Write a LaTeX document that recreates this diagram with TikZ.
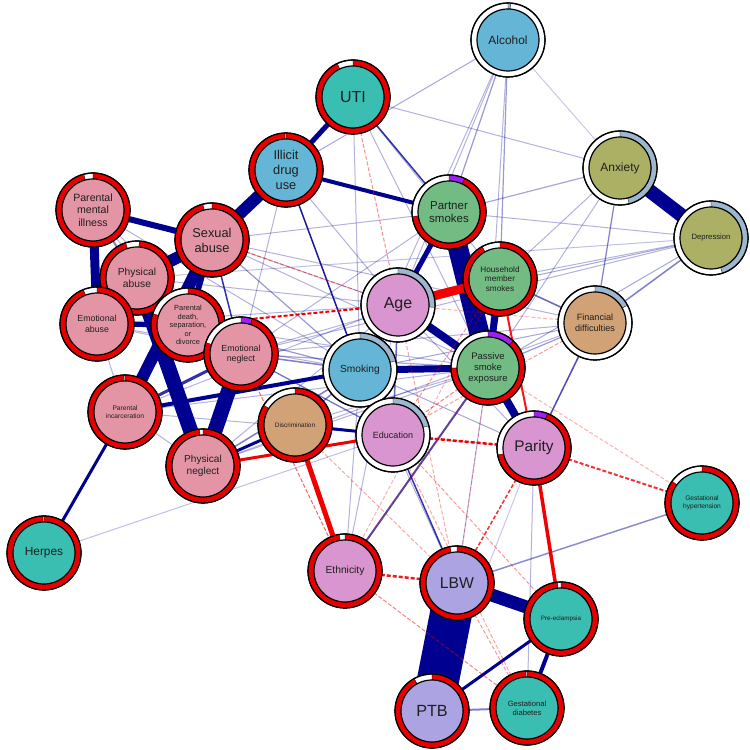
\documentclass[tikz,border=0pt]{standalone}
\usepackage{fontspec}
\setmainfont{Liberation Sans}
\usetikzlibrary{backgrounds}

\definecolor{posblue}{HTML}{000090}
\definecolor{negred}{HTML}{F00000}
\definecolor{rred}{HTML}{E80000}
\definecolor{rblue}{HTML}{9DB7D0}
\definecolor{rpurple}{HTML}{A020F0}
\definecolor{cace}{HTML}{E495A5}
\definecolor{cbrown}{HTML}{D2A277}
\definecolor{colive}{HTML}{ABB065}
\definecolor{cgreen}{HTML}{72BB83}
\definecolor{cteal}{HTML}{39BEB1}
\definecolor{cblue}{HTML}{64B5D6}
\definecolor{clav}{HTML}{ACA4E2}
\definecolor{corchid}{HTML}{D995CF}

% node with predictability ring
\newcommand{\netnode}[7]{%
  \node[outer] (#1) at (#2,#3) {};
  \foreach \s/\e/\rc in {#7}{%
    \filldraw[fill=\rc, draw=black, line width=.3pt]
      ([shift={(90-360*\s:37pt)}]#1.center) arc[start angle=90-360*\s, end angle=90-360*\e, radius=37pt]
      -- ([shift={(90-360*\e:31pt)}]#1.center) arc[start angle=90-360*\e, end angle=90-360*\s, radius=31pt] -- cycle;}
  \draw[line width=1.2pt] (#1.center) circle[radius=37pt];
  \node[inside, fill=#4, #5] at (#1.center) {#6};
}

\begin{document}
\begin{tikzpicture}[
  x=1pt, y=1pt,
  outer/.style={circle, minimum size=74pt, inner sep=0pt, fill=white, draw=black, line width=1.2pt},
  inside/.style={circle, minimum size=62pt, inner sep=0pt, draw=black, line width=1.2pt, align=center, text=black!88},
  fs/.style 2 args={font=\fontsize{#1}{#2}\selectfont},
  posedge/.style={draw=posblue},
  negedge/.style={draw=negred},
  negdash/.style={draw=negred, dash pattern=on 4pt off 2pt}
]
\useasboundingbox (0,0) rectangle (750,750);

% nodes
\netnode{alc}{508}{710}{cblue}{fs={11.9}{14}}{Alcohol}{0/0.012/rblue}
\netnode{uti}{353}{653}{cteal}{fs={16}{19}}{UTI}{0/0.93/rred}
\netnode{ill}{286}{580}{cblue}{fs={12.8}{15}}{Illicit\\drug\\use}{0/0.995/rred}
\netnode{anx}{620}{582}{colive}{fs={11.9}{14}}{Anxiety}{0/0.46/rblue}
\netnode{dep}{711}{512}{colive}{fs={7.7}{9}}{Depression}{0/0.45/rblue}
\netnode{pmi}{93}{540}{cace}{fs={10.6}{12.5}}{Parental\\mental\\illness}{0/0.96/rred}
\netnode{sex}{212}{510}{cace}{fs={12.8}{15}}{Sexual\\abuse}{0/0.96/rred}
\netnode{pa}{137}{472}{cace}{fs={10.3}{12}}{Physical\\abuse}{0.01/0.95/rred}
\netnode{ea}{97}{426}{cace}{fs={8.8}{10.5}}{Emotional\\abuse}{0/0.94/rred}
\netnode{pd}{188}{425}{cace}{fs={7.4}{8.6}}{Parental\\death,\\separation,\\or\\divorce}{0/0.8/rred}
\netnode{en}{241}{396}{cace}{fs={8.8}{10.5}}{Emotional\\neglect}{0/0.05/rpurple, 0.05/0.8/rred}
\netnode{pinc}{125}{338}{cace}{fs={6.7}{8}}{Parental\\incarceration}{0/0.995/rred}
\netnode{pn}{203}{284}{cace}{fs={10.1}{12}}{Physical\\neglect}{0/0.985/rred}
\netnode{her}{44}{197}{cteal}{fs={11.9}{14}}{Herpes}{0/0.995/rred}
\netnode{ps}{449}{538}{cgreen}{fs={11.5}{13.5}}{Partner\\smokes}{0/0.07/rpurple, 0.07/0.73/rred}
\netnode{hh}{500}{471}{cgreen}{fs={8.2}{9.7}}{Household\\member\\smokes}{0/0.92/rred}
\netnode{age}{398}{445}{corchid}{fs={16}{19}}{Age}{0/0.26/rblue}
\netnode{fin}{595}{427}{cbrown}{fs={9.1}{10.8}}{Financial\\difficulties}{0/0.17/rblue}
\netnode{pse}{488}{382}{cgreen}{fs={9.5}{11.3}}{Passive\\smoke\\exposure}{0/0.12/rpurple, 0.12/0.75/rred}
\netnode{dis}{295}{325}{cbrown}{fs={6.4}{7.6}}{Discrimination}{0/0.84/rred}
\netnode{smk}{360}{380}{cblue}{fs={10.2}{12}}{Smoking}{0/0.21/rblue}
\netnode{edu}{393}{315}{corchid}{fs={9}{10.6}}{Education}{0/0.21/rblue}
\netnode{par}{534}{302}{corchid}{fs={15.4}{18}}{Parity}{0/0.06/rpurple, 0.06/0.72/rred}
\netnode{ght}{702}{247}{cteal}{fs={6.6}{7.8}}{Gestational\\hypertension}{0/0.85/rred}
\netnode{eth}{345}{179}{corchid}{fs={10.3}{12}}{Ethnicity}{0/0.975/rred}
\netnode{lbw}{457}{167}{clav}{fs={15.7}{18.5}}{LBW}{0/0.97/rred}
\netnode{pre}{561}{131}{cteal}{fs={6.3}{7.5}}{Pre-eclampsia}{0/0.985/rred}
\netnode{gdm}{527}{42}{cteal}{fs={7.6}{9}}{Gestational\\diabetes}{0/0.995/rred}
\netnode{ptb}{432}{39}{clav}{fs={16.2}{19}}{PTB}{0/0.92/rred}

% edges
\begin{pgfonlayer}{background}
% faint positive edges
\foreach \a/\b/\w/\o in {ill/alc/1/.35, alc/ps/1.2/.4, alc/hh/1.2/.4, alc/age/1/.3, alc/smk/1/.3,
    alc/pse/1/.3, alc/anx/1/.22, anx/ps/1.2/.35, anx/fin/1.2/.5, dep/fin/1.5/.5, dep/ps/1/.3,
    dep/age/1/.35, dep/pse/1/.35, dep/hh/1/.3, anx/hh/1/.3, anx/pse/1/.3, uti/pse/1/.3,
    uti/anx/1/.3, uti/smk/1/.3, her/edu/1/.25, fin/pse/1.2/.4, fin/smk/1/.35, fin/en/1/.3,
    fin/sex/1/.3, dep/en/1/.3, dep/pa/1/.25, smk/sex/1.2/.4, smk/pmi/1/.3, smk/ea/1/.3,
    smk/pd/1.2/.4, smk/en/1.5/.5, age/sex/1/.3, age/pa/1/.3, age/ea/1/.3, edu/pd/1/.3,
    edu/en/1.2/.4, edu/pinc/1/.3, pse/sex/1/.3, pse/en/1.2/.35, pse/pd/1/.3, ps/sex/1/.3,
    ps/en/1/.3, hh/en/1/.3, age/edu/1.5/.6, par/smk/1/.35, par/age/1/.3, lbw/smk/1/.3,
    lbw/pse/1/.3, eth/smk/1/.3, eth/age/1/.3, gdm/par/1/.3, ptb/par/1/.22, pn/smk/1.5/.5,
    pn/age/1/.3, pn/pse/1/.3, dis/smk/1.5/.5, dis/pse/1/.3, pn/fin/1/.3, pinc/pse/1/.3,
    pinc/age/1/.3, ea/en/1/.3, pmi/pd/1/.3, pmi/en/1/.3, ps/smk/1/.3, ill/en/1/.3,
    ill/age/1/.3, uti/hh/1/.3, edu/par/1/.25, pinc/ea/1/.3, pinc/pn/1/.3}
  \draw[posedge, line width=\w pt, draw opacity=\o] (\a.center) -- (\b.center);
% strong positive edges
\foreach \a/\b/\w/\o in {anx/dep/14/1, lbw/ptb/42/1, lbw/pre/13/1, pre/ptb/3/1, pre/gdm/4/1,
    ptb/gdm/2/.5, ps/pse/20/1, hh/pse/7/1, age/pse/8/1, smk/pse/7/1, pse/par/8/1, age/ps/5/1,
    ill/sex/12/1, uti/ill/5/1, ill/ps/4/1, pmi/sex/6/1, pmi/ea/9/1, sex/pa/12/1, pa/ea/14/1,
    pa/pn/15/1, en/pn/15/1, sex/pinc/12/1, sex/pd/6/1, pinc/smk/4/1, pinc/en/3/.8,
    her/pinc/3/1, pn/dis/3/1, dis/edu/3/1, ill/smk/1.5/.9, uti/ps/1.5/.8, edu/lbw/1.5/.8,
    eth/pse/2/.7, ght/lbw/1.5/.45, hh/fin/1.5/.6, fin/par/1.5/.7, sex/en/1.5/.8,
    pmi/pa/2/.5, pd/en/4/1, ea/pd/5/1, pa/pd/4/1}
  \draw[posedge, line width=\w pt, draw opacity=\o] (\a.center) -- (\b.center);
% negative edges, solid
\foreach \a/\b/\w/\o in {dis/eth/5/1, age/hh/9/1, par/pre/3.5/1, hh/par/2/.9, pn/edu/3/1}
  \draw[negedge, line width=\w pt, draw opacity=\o] (\a.center) -- (\b.center);
% negative edges, dashed
\foreach \a/\b/\w/\o in {edu/par/2.5/1, pd/age/2/1, par/ght/2/.8, par/lbw/1.5/.8, eth/lbw/2.5/.9,
    eth/gdm/1/.5, uti/age/1/.45, en/eth/1/.6, sex/age/1/.5, edu/pre/1/.4, age/lbw/1/.35,
    lbw/gdm/1/.4, pse/eth/1/.4, pse/edu/1/.5, hh/edu/1/.4, fin/edu/1/.4, fin/age/1/.3,
    pse/lbw/1/.3, dis/lbw/1/.35, hh/eth/1/.3, pse/ght/1/.3, edu/gdm/1/.35}
  \draw[negdash, line width=\w pt, draw opacity=\o] (\a.center) -- (\b.center);
\end{pgfonlayer}

\end{tikzpicture}
\end{document}
